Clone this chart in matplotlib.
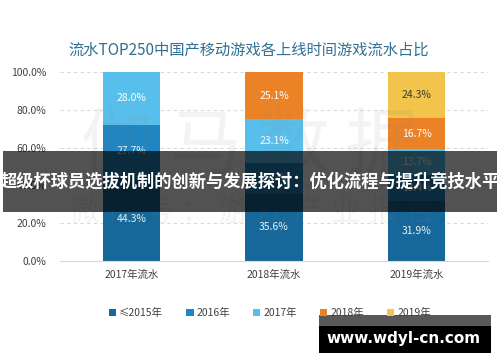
import matplotlib
matplotlib.use("Agg")
import matplotlib.pyplot as plt
from matplotlib.patches import Rectangle

plt.rcParams['font.family'] = ['Noto Sans CJK SC', 'DejaVu Sans']

# data (share of revenue, %)
categories = ["2017年流水", "2018年流水", "2019年流水"]
series_names = ["≤2015年", "2016年", "2017年", "2018年", "2019年"]
le2015 = [44.3, 35.6, 31.9]
y2016 = [27.7, 16.2, 13.4]
y2017 = [28.0, 23.1, 13.7]
y2018 = [0, 25.1, 16.7]
y2019 = [0, 0, 24.3]
yticks = [0, 20, 40, 60, 80, 100]

colors = ["#17689a", "#1f86c2", "#58bfec", "#ec8226", "#f3c44c"]
label_colors = ["#e6f2f8", "#e6f2f8", "#ffffff", "#ffffff", "#3a3a3a"]

W, H = 500, 362
fig = plt.figure(figsize=(W / 100, H / 100), dpi=100)

def fx(px):
    return px / W

def fy(py):
    return 1 - py / H

ax = fig.add_axes([fx(60), fy(261), fx(488) - fx(60), fy(72) - fy(261)])

x = list(range(len(categories)))
bottom = [0, 0, 0]
for name, vals, c, lc in zip(series_names, [le2015, y2016, y2017, y2018, y2019], colors, label_colors):
    bars = ax.bar(x, vals, 0.4, bottom=bottom, color=c, label=name, zorder=2)
    labels = [f"{v:.1f}%" if v > 0 else "" for v in vals]
    ax.bar_label(bars, labels=labels, label_type="center", color=lc, fontsize=7.5)
    bottom = [b + v for b, v in zip(bottom, vals)]

ax.set_xlim(-0.5, 2.5)
ax.set_ylim(0, 100)
ax.set_yticks(yticks)
ax.set_yticklabels([f"{t:.1f}%" for t in yticks], fontsize=7.5, color="#404040")
ax.set_xticks(x)
ax.set_xticklabels(categories, fontsize=7.5, color="#404040")
ax.tick_params(length=0, pad=6)
ax.tick_params(axis="y", pad=10)
for t in yticks[1:]:
    ax.axhline(t, color="#d9d9d9", lw=0.8, ls=(0, (3, 3)), zorder=1)
for s in ["top", "right", "left"]:
    ax.spines[s].set_visible(False)
ax.spines["bottom"].set_color("#d9d9d9")

fig.text(fx(249), fy(50), "流水TOP250中国产移动游戏各上线时间游戏流水占比",
         ha="center", va="center", fontsize=11, color="#2f6f93")

leg = fig.legend(loc="center", bbox_to_anchor=(fx(270), fy(313)), ncol=5, frameon=False,
                 fontsize=7.5, handlelength=0.7, handleheight=0.7, handletextpad=0.3,
                 columnspacing=2.2)
for t in leg.get_texts():
    t.set_color("#404040")

# faint watermark
fig.text(fx(250), fy(148), "伽 马 数 据", ha="center", va="center", fontsize=52,
         color="#808080", alpha=0.09)
fig.text(fx(252), fy(212), "微 信 号 ： 游 戏 产 业 报 告", ha="center", va="center",
         fontsize=22, color="#808080", alpha=0.09)

# dark banner across the middle
fig.patches.append(Rectangle((fx(3), fy(212)), fx(497) - fx(3), fy(151) - fy(212),
                             transform=fig.transFigure, facecolor="black", alpha=0.68,
                             zorder=5))
fig.text(fx(250), fy(182), "超级杯球员选拔机制的创新与发展探讨：优化流程与提升竞技水平",
         ha="center", va="center", fontsize=12.4, fontweight="bold", color="white", zorder=6)

# site box bottom right
fig.patches.append(Rectangle((fx(319), fy(326)), fx(491) - fx(319), fy(315) - fy(326),
                             transform=fig.transFigure, facecolor="black", alpha=0.65,
                             zorder=5))
fig.patches.append(Rectangle((fx(319), fy(353)), fx(491) - fx(319), fy(326) - fy(353),
                             transform=fig.transFigure, facecolor="black", zorder=5))
fig.text(fx(404), fy(338), "www.wdyl-cn.com", ha="center", va="center", fontsize=11,
         fontweight="bold", color="white", family="DejaVu Sans", zorder=6)

fig.savefig("out.png", dpi=100)
